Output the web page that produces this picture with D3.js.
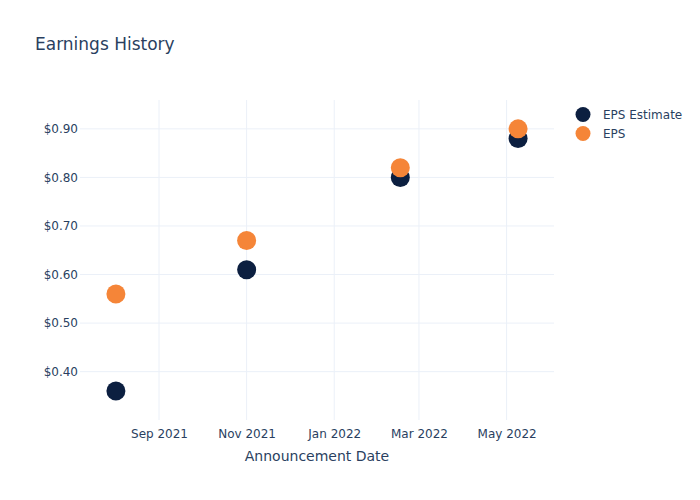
<!DOCTYPE html>
<html>
<head>
<meta charset="utf-8">
<script src="https://cdn.jsdelivr.net/npm/d3@7"></script>
<style>
body{margin:0;background:#fff;}
text{font-family:"DejaVu Sans",sans-serif;}
</style>
</head>
<body>
<svg id="chart" width="700" height="500"></svg>
<script>
const dates = ["2021-08-02","2021-11-01","2022-02-16","2022-05-09"];
const epsEstimate = [0.36, 0.61, 0.80, 0.88];
const eps = [0.56, 0.67, 0.82, 0.90];
const seriesNames = ["EPS Estimate","EPS"];
const seriesColors = ["#0c1f40","#f58538"];
const yTicks = [0.40,0.50,0.60,0.70,0.80,0.90];
const xTickDates = ["2021-09-01","2021-11-01","2022-01-01","2022-03-01","2022-05-01"];

const parse = d3.timeParse("%Y-%m-%d");
const svg = d3.select("#chart");
const L=80, R=554, T=100, B=420;
const x = d3.scaleTime().domain([parse("2021-07-08"), parse("2022-06-03")]).range([L,R]);
const y = d3.scaleLinear().domain([0.299, 0.958]).range([B+0.7,T+0.7]);
const textColor = "#2a3f5f", gridColor = "#ebf0f8";

svg.append("rect").attr("width",700).attr("height",500).attr("fill","#fff");

// grid
svg.append("g").selectAll("line").data(xTickDates.map(parse)).join("line")
  .attr("x1",d=>x(d)).attr("x2",d=>x(d)).attr("y1",T).attr("y2",B)
  .attr("stroke",gridColor).attr("stroke-width",1);
svg.append("g").selectAll("line").data(yTicks).join("line")
  .attr("x1",L).attr("x2",R).attr("y1",d=>y(d)).attr("y2",d=>y(d))
  .attr("stroke",gridColor).attr("stroke-width",1);

// axes
const xAxis = d3.axisBottom(x).tickValues(xTickDates.map(parse)).tickFormat(d3.timeFormat("%b %Y")).tickSize(0).tickPadding(9);
const gx = svg.append("g").attr("transform",`translate(0,${B})`).call(xAxis);
gx.select(".domain").remove();
gx.selectAll("text").attr("fill",textColor).style("font-size","12px").style("font-family","'DejaVu Sans',sans-serif");

const yAxis = d3.axisLeft(y).tickValues(yTicks).tickFormat(d=>"$"+d.toFixed(2)).tickSize(0).tickPadding(2);
const gy = svg.append("g").attr("transform",`translate(${L},0)`).call(yAxis);
gy.select(".domain").remove();
gy.selectAll("text").attr("fill",textColor).style("font-size","12px").style("font-family","'DejaVu Sans',sans-serif");

// points
const series = [epsEstimate, eps];
series.forEach((vals,i)=>{
  svg.append("g").selectAll("circle").data(vals).join("circle")
    .attr("cx",(d,j)=>x(parse(dates[j]))).attr("cy",d=>y(d)).attr("r",9.5)
    .attr("fill",seriesColors[i]);
});

// title
svg.append("text").attr("x",35).attr("y",50).text("Earnings History")
  .attr("fill",textColor).style("font-size","17px");
// axis title
svg.append("text").attr("x",(L+R)/2).attr("y",461).attr("text-anchor","middle")
  .text("Announcement Date").attr("fill",textColor).style("font-size","14px");

// legend
seriesNames.forEach((n,i)=>{
  const yy = 114.5 + i*19;
  svg.append("circle").attr("cx",583).attr("cy",yy).attr("r",7.5).attr("fill",seriesColors[i]);
  svg.append("text").attr("x",603).attr("y",yy+4.5).text(n).attr("fill",textColor).style("font-size","12px");
});
</script>
</body>
</html>
